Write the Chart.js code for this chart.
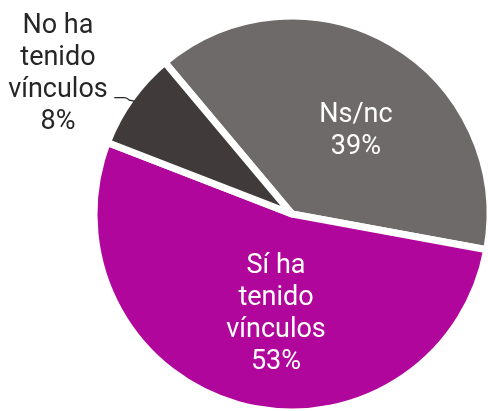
<!DOCTYPE html>
<html><head><meta charset="utf-8">
<script src="https://cdn.jsdelivr.net/npm/chart.js@4"></script>
<style>
html,body{margin:0;padding:0;overflow:hidden;background:#fff;width:488px;height:411px}
#wrap{position:absolute;left:0;top:0;width:600px;height:440px}
</style>
</head><body><div id="wrap"><canvas id="c" width="600" height="440"></canvas></div>
<script>
// ---- data ----
const categories = ['Ns/nc', 'Sí ha tenido vínculos', 'No ha tenido vínculos'];
const values = [39, 53, 8];
const nameLines = [['Ns/nc'], ['Sí ha', 'tenido', 'vínculos'], ['No ha', 'tenido', 'vínculos']];
const colors = ['#6e6a69', '#b1069b', '#403a3a'];

// ---- label placement (relative to each slice) ----
const labelPos = [
  {rf: 0.54, da: 6.5, color: '#ffffff', leader: false},
  {rf: 0.50, da: -6.5, color: '#ffffff', leader: false},
  {rf: 1.385, da: -4.2, color: '#262626', leader: true}
];
const FONT = '27px Roboto';
const LINE_H = 32;
const CAP = 19;

const labelPlugin = {
  id: 'sliceLabels',
  afterDatasetsDraw(chart) {
    const ctx = chart.ctx;
    const meta = chart.getDatasetMeta(0);
    meta.data.forEach((arc, i) => {
      const p = arc.getProps(['x', 'y', 'startAngle', 'endAngle', 'outerRadius'], true);
      const m0 = (p.startAngle + p.endAngle) / 2;
      const mid = m0 + labelPos[i].da * Math.PI / 180;
      const r = p.outerRadius * labelPos[i].rf;
      const cx = p.x + Math.cos(mid) * r, cy = p.y + Math.sin(mid) * r;
      const lines = [...nameLines[i], values[i] + '%'];
      ctx.save();
      ctx.font = FONT;
      ctx.fillStyle = labelPos[i].color;
      ctx.textAlign = 'center';
      ctx.textBaseline = 'alphabetic';
      lines.forEach((t, k) => ctx.fillText(t, cx, cy + (k - (lines.length - 1) / 2) * LINE_H + CAP / 2));
      if (labelPos[i].leader) {
        const ex = p.x + Math.cos(m0) * (p.outerRadius - 4);
        const ey = p.y + Math.sin(m0) * (p.outerRadius - 4);
        ctx.strokeStyle = labelPos[i].color;
        ctx.lineWidth = 1.3;
        ctx.beginPath();
        ctx.moveTo(ex, ey);
        ctx.lineTo(ex - 5, ey - 1);
        ctx.quadraticCurveTo(ex - 7, ey - 3.5, ex - 10, ey - 3.5);
        ctx.lineTo(ex - 20, ey - 3.5);
        ctx.stroke();
      }
      ctx.restore();
    });
  }
};

new Chart(document.getElementById('c'), {
  type: 'pie',
  data: {
    labels: categories,
    datasets: [{
      data: values,
      backgroundColor: colors,
      borderColor: '#ffffff',
      borderWidth: 7,
      borderJoinStyle: 'round',
      hoverOffset: 0
    }]
  },
  options: {
    responsive: false,
    devicePixelRatio: 1,
    animation: false,
    rotation: -40,
    radius: 198,
    layout: {padding: {left: 82, right: 98, top: 4, bottom: 16}},
    plugins: {legend: {display: false}, tooltip: {enabled: false}}
  },
  plugins: [labelPlugin]
});
</script>
</body></html>
